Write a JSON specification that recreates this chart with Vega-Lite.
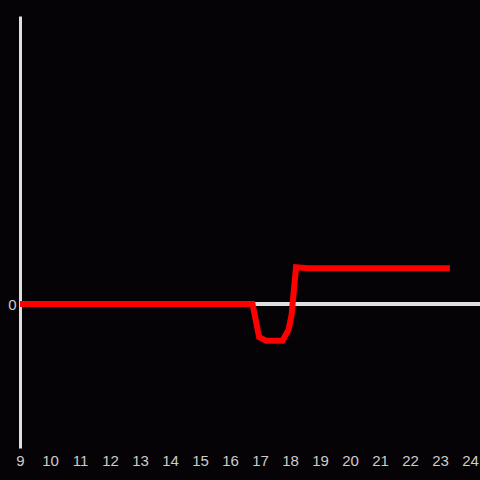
{
  "$schema": "https://vega.github.io/schema/vega-lite/v6.json",
  "width": 460,
  "height": 432,
  "autosize": {"type": "none"},
  "padding": {"left": 20, "top": 16, "right": 0, "bottom": 32},
  "background": "#050306",
  "config": {
    "view": {"stroke": null},
    "axis": {"labelFont": "Liberation Sans", "labelFontSize": 15, "labelColor": "#cccccc", "grid": false, "ticks": false}
  },
  "data": {"values": [
    {"t": 9, "v": 0},
    {"t": 16.75, "v": 0},
    {"t": 16.97, "v": -0.23},
    {"t": 17.2, "v": -0.255},
    {"t": 17.75, "v": -0.255},
    {"t": 17.95, "v": -0.18},
    {"t": 18.05, "v": -0.08},
    {"t": 18.2, "v": 0.255},
    {"t": 18.6, "v": 0.248},
    {"t": 23.33, "v": 0.248}
  ]},
  "layer": [
    {
      "mark": {"type": "rule", "color": "#e0e0e0", "strokeWidth": 3},
      "encoding": {"y": {"datum": 0, "type": "quantitative", "scale": {"domain": [-1, 2], "nice": false, "zero": false}}}
    },
    {
      "mark": {"type": "line", "color": "#ff0000", "strokeWidth": 6, "strokeJoin": "miter"},
      "encoding": {
        "x": {"field": "t", "type": "quantitative", "title": null,
              "scale": {"domain": [9, 24.333], "nice": false, "zero": false},
              "axis": {"values": [9,10,11,12,13,14,15,16,17,18,19,20,21,22,23,24], "format": "d", "domain": false, "labelPadding": 5, "labelFlush": false}},
        "y": {"field": "v", "type": "quantitative", "title": null,
              "scale": {"domain": [-1, 2], "nice": false, "zero": false},
              "axis": {"values": [0], "format": "d", "domain": true, "domainColor": "#e0e0e0", "domainWidth": 3, "labelPadding": 4}}
      }
    }
  ]
}
